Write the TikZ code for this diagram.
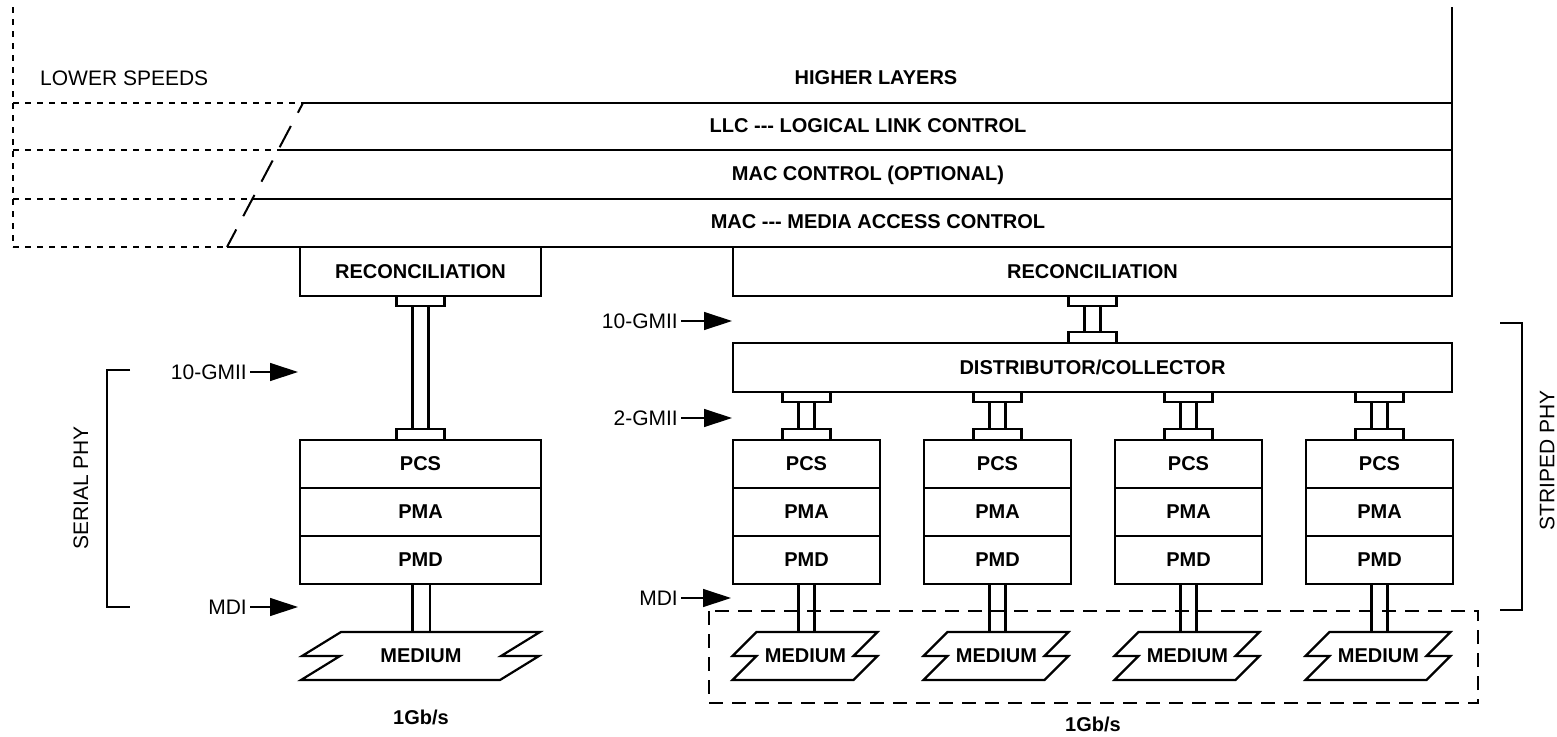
\documentclass[tikz,border=0pt]{standalone}
\usepackage{fontspec}
\setmainfont{Liberation Sans}
\usepackage{tikz}
\usetikzlibrary{positioning}
\usetikzlibrary{arrows.meta}
\usetikzlibrary{calc}

\newcommand{\bfont}{\bfseries\fontsize{20}{24}\selectfont}
\newcommand{\rfont}{\fontsize{21}{25}\selectfont}

% I-beam between two boxes, centred on the lower one
\newcommand{\gmiilink}[2]{%
  \coordinate (lt) at (#2.north |- #1.south);
  \draw[Link] ($(lt)+(-24,0)$) rectangle ($(lt)+(24,10)$);
  \draw[Link] ($(#2.north)+(-24,-11)$) rectangle ($(#2.north)+(24,0)$);
  \draw[Link] ($(lt)+(-8,10)$) rectangle ($(#2.north)+(8,-11)$);}

\begin{document}
\begin{tikzpicture}[x=1pt,y=-1pt]
    \tikzset{Box/.style={draw, line width=2.2pt, inner sep=0pt, outer sep=0pt, font=\bfont}};
    \tikzset{Link/.style={draw, line width=2.2pt}};
    \tikzset{Layer/.style={line width=2.2pt}};
    \tikzset{Lbl/.style={font=\rfont, inner sep=3pt}};
    \tikzset{Ptr/.style={line width=1.3pt, -{Triangle[length=28pt,width=18pt]}}};
    \tikzset{Dots/.style={line width=1.1pt, dash pattern=on 6pt off 6pt}};
    \tikzset{Thin/.style={line width=1.1pt}};
    \useasboundingbox (0,0) rectangle (1557,736);

    % layer bands
    \draw[Layer] (1452,7) -- (1452,296);
    \draw[Layer] (303,103) -- (1452,103);
    \draw[Layer] (278,150) -- (1452,150);
    \draw[Layer] (252,199) -- (1452,199);
    \draw[Layer] (227,247) -- (1452,247);
    \draw[line width=2pt, dash pattern=on 24pt off 15pt, dash phase=13pt] (303,103) -- (227,247);
    \draw[Dots] (13,7) -- (13,247);
    \draw[Dots] (13,103) -- (303,103);
    \draw[Dots] (13,150) -- (278,150);
    \draw[Dots] (13,199) -- (252,199);
    \draw[Dots] (13,247) -- (227,247);
    \node[Lbl, anchor=west] (lower) at (37,78) {LOWER SPEEDS};
    \node[font=\bfont] (higher) at (876,78) {HIGHER LAYERS};
    \node[font=\bfont] (llc) at (868,126) {LLC -{}-{}- LOGICAL LINK CONTROL};
    \node[font=\bfont] (macctl) at (868,175) {MAC CONTROL (OPTIONAL)};
    \node[font=\bfont] (mac) at (878,222) {MAC -{}-{}- MEDIA ACCESS CONTROL};

    % serial phy
    \node[Box, minimum width=241pt, minimum height=49pt] (recL) at (420.5,271.5) {RECONCILIATION};
    \node[Box, minimum width=241pt, minimum height=48pt] (pcsL) at (420.5,464) {PCS};
    \node[Box, minimum width=241pt, minimum height=48pt, below=0pt of pcsL] (pmaL) {PMA};
    \node[Box, minimum width=241pt, minimum height=48pt, below=0pt of pmaL] (pmdL) {PMD};
    \node[font=\bfont] (medL) at (421,656) {MEDIUM};
    \draw[Link, shift={(medL.center)}] (-80,-24) -- (119,-24) -- (80,0) -- (118,0) -- (79,24)
        -- (-120,24) -- (-81,0) -- (-119,0) -- cycle;
    \gmiilink{recL}{pcsL}
    \draw[Link] ($(pmdL.south)+(-8,0)$) rectangle ($(medL.center)+(9,-24)$);
    \node[font=\bfont] (rateL) at (421,717) {1Gb/s};

    % striped phy
    \node[Box, minimum width=719pt, minimum height=49pt] (recR) at (1092.5,271.5) {RECONCILIATION};
    \node[Box, minimum width=719pt, minimum height=49pt] (dist) at (1092.5,367.5) {DISTRIBUTOR/COLLECTOR};
    \gmiilink{recR}{dist}
    \foreach \i/\cx in {1/806.5,2/997.5,3/1188.5,4/1379.5}{
      \node[Box, minimum width=147pt, minimum height=48pt] (pcs\i) at (\cx,464) {PCS};
      \node[Box, minimum width=147pt, minimum height=48pt, below=0pt of pcs\i] (pma\i) {PMA};
      \node[Box, minimum width=147pt, minimum height=48pt, below=0pt of pma\i] (pmd\i) {PMD};
      \node[font=\bfont] (med\i) at (\cx-1,656) {MEDIUM};
      \draw[Link, shift={(med\i.center)}] (-49,-24) -- (72,-24) -- (48,0) -- (72,0) -- (48,24)
          -- (-73,24) -- (-49,0) -- (-73,0) -- cycle;
      \gmiilink{dist}{pcs\i}
      \draw[Link] ($(pmd\i.south)+(-8,0)$) rectangle ($(pmd\i.south)+(8,48)$);
    }
    \draw[line width=1.6pt, dash pattern=on 14pt off 9pt] (709,611) rectangle (1478,703);
    \node[font=\bfont] (rateR) at (1093,724) {1Gb/s};

    % interface labels
    \node[Lbl, anchor=east] (gmiiL) at (250,372) {10-GMII};
    \coordinate (gmiiLtip) at (298,372);
    \draw[Ptr] (gmiiL) -- (gmiiLtip);
    \node[Lbl, anchor=east] (mdiL) at (250,607) {MDI};
    \coordinate (mdiLtip) at (298,607);
    \draw[Ptr] (mdiL) -- (mdiLtip);
    \node[Lbl, anchor=east] (gmiiR) at (681,321) {10-GMII};
    \coordinate (gmiiRtip) at (732,321);
    \draw[Ptr] (gmiiR) -- (gmiiRtip);
    \node[Lbl, anchor=east] (gmii2) at (681,418) {2-GMII};
    \coordinate (gmii2tip) at (732,418);
    \draw[Ptr] (gmii2) -- (gmii2tip);
    \node[Lbl, anchor=east] (mdiR) at (681,598) {MDI};
    \coordinate (mdiRtip) at (731,598);
    \draw[Ptr] (mdiR) -- (mdiRtip);

    % brackets
    \draw[Thin] (130,370) -- (107,370) -- (107,607) -- (130,607);
    \node[Lbl, rotate=90] (serial) at (81,488) {SERIAL PHY};
    \draw[Thin] (1500,323) -- (1522,323) -- (1522,610) -- (1500,610);
    \node[Lbl, rotate=90] (striped) at (1547,460) {STRIPED PHY};
  \end{tikzpicture}
\end{document}
